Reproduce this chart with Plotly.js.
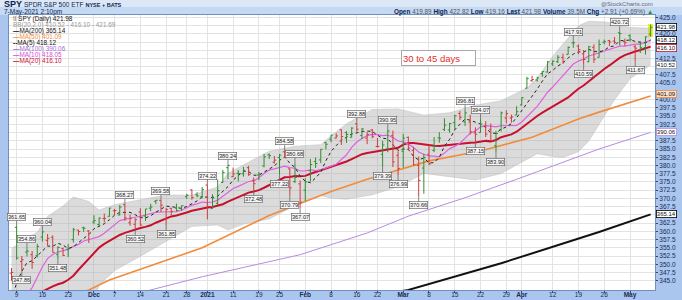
<!DOCTYPE html>
<html><head><meta charset="utf-8">
<script src="https://cdn.plot.ly/plotly-3.0.1.min.js"></script>
<style>html,body{margin:0;padding:0;background:#aac6ee;}#chart{width:682px;height:300px;}</style>
</head><body><div id="chart"></div>
<script>
// ---- trading days ----
const dates = ['2020-11-06','2020-11-09','2020-11-10','2020-11-11','2020-11-12','2020-11-13','2020-11-16','2020-11-17','2020-11-18','2020-11-19','2020-11-20','2020-11-23','2020-11-24','2020-11-25','2020-11-27','2020-11-30',
'2020-12-01','2020-12-02','2020-12-03','2020-12-04','2020-12-07','2020-12-08','2020-12-09','2020-12-10','2020-12-11','2020-12-14','2020-12-15','2020-12-16','2020-12-17','2020-12-18','2020-12-21','2020-12-22','2020-12-23','2020-12-24','2020-12-28','2020-12-29','2020-12-30','2020-12-31',
'2021-01-04','2021-01-05','2021-01-06','2021-01-07','2021-01-08','2021-01-11','2021-01-12','2021-01-13','2021-01-14','2021-01-15','2021-01-19','2021-01-20','2021-01-21','2021-01-22','2021-01-25','2021-01-26','2021-01-27','2021-01-28','2021-01-29',
'2021-02-01','2021-02-02','2021-02-03','2021-02-04','2021-02-05','2021-02-08','2021-02-09','2021-02-10','2021-02-11','2021-02-12','2021-02-16','2021-02-17','2021-02-18','2021-02-19','2021-02-22','2021-02-23','2021-02-24','2021-02-25','2021-02-26',
'2021-03-01','2021-03-02','2021-03-03','2021-03-04','2021-03-05','2021-03-08','2021-03-09','2021-03-10','2021-03-11','2021-03-12','2021-03-15','2021-03-16','2021-03-17','2021-03-18','2021-03-19','2021-03-22','2021-03-23','2021-03-24','2021-03-25','2021-03-26','2021-03-29','2021-03-30','2021-03-31',
'2021-04-01','2021-04-05','2021-04-06','2021-04-07','2021-04-08','2021-04-09','2021-04-12','2021-04-13','2021-04-14','2021-04-15','2021-04-16','2021-04-19','2021-04-20','2021-04-21','2021-04-22','2021-04-23','2021-04-26','2021-04-27','2021-04-28','2021-04-29','2021-04-30',
'2021-05-03','2021-05-04','2021-05-05','2021-05-06','2021-05-07'];

// ---- OHLC (adjusted) ----
const openP = [347.29,361.22,350.82,353.71,352.90,352.59,358.25,357.25,358.19,352.92,
354.80,354.58,357.49,360.39,361.09,360.09,362.81,362.07,363.91,364.55,
366.23,364.94,368.08,362.61,362.14,365.86,364.63,367.03,369.13,369.40,
363.77,367.00,367.07,366.87,370.52,372.58,371.12,370.56,374.08,366.89,
368.50,374.87,379.34,376.61,377.65,377.45,379.34,375.48,377.10,379.86,
383.23,381.00,382.41,384.15,378.97,375.13,374.40,372.49,378.40,381.19,
381.70,386.93,387.99,388.33,390.83,389.96,388.57,392.67,389.14,388.31,
390.78,385.79,383.40,385.06,389.13,383.09,384.33,388.54,384.52,379.97,
379.21,383.40,384.58,388.41,390.94,390.78,393.04,395.77,393.24,393.19,
389.88,390.03,391.91,391.00,385.98,390.93,394.40,394.42,395.34,398.40,
403.46,405.76,405.94,407.93,408.39,410.85,411.53,412.83,413.74,417.25,
416.26,413.91,411.51,415.89,412.87,417.44,417.93,417.81,420.32,417.63,
419.43,416.07,417.38,415.83,419.89];
const highP = [348.86,361.65,352.50,354.86,354.03,356.19,360.04,359.19,358.77,355.48,
355.02,356.11,361.06,360.42,361.43,360.38,364.90,364.19,365.41,367.06,
366.83,367.98,368.27,365.08,363.97,367.01,366.80,368.36,369.50,369.58,
367.10,367.12,368.41,367.82,371.37,372.77,371.88,373.43,374.22,371.28,
375.74,378.65,380.24,379.33,378.61,379.61,379.88,376.34,377.99,383.53,
383.69,382.87,383.51,384.58,379.07,380.68,375.43,376.10,381.96,382.44,
384.97,387.20,389.28,389.78,390.99,390.41,391.61,392.88,391.37,390.24,
391.09,388.34,387.48,390.95,390.59,384.32,389.64,388.79,385.56,382.74,
383.50,386.41,388.63,390.12,394.35,392.92,395.39,396.53,396.81,395.42,
391.57,394.07,393.46,392.75,390.55,396.41,396.75,395.45,398.00,400.67,
406.94,407.24,406.96,408.58,411.67,411.93,413.53,413.96,416.16,417.91,
416.74,415.09,416.29,416.78,418.25,418.22,418.14,419.01,420.72,418.54,
419.84,416.60,417.63,419.21,422.82];
const lowP = [345.03,351.39,347.86,352.38,348.61,352.03,356.88,355.63,353.55,351.48,
352.50,352.19,356.58,358.75,359.84,356.46,362.17,361.45,362.74,364.45,
364.94,364.89,363.19,361.68,360.52,361.72,363.16,366.09,368.25,365.82,
361.85,364.83,366.02,366.24,369.85,369.61,370.35,370.01,363.62,366.84,
367.91,374.68,375.86,376.48,375.13,376.61,376.86,372.48,375.51,379.44,
381.99,380.59,377.22,382.28,370.79,374.66,367.07,369.17,375.09,379.23,
380.72,384.87,387.08,388.22,386.23,386.83,388.49,390.25,388.05,386.47,
388.27,385.47,379.39,384.01,379.53,376.99,379.32,384.73,380.06,370.66,
371.42,380.17,384.05,386.90,390.46,389.92,390.74,393.78,392.01,389.47,
387.15,389.97,388.66,387.47,383.90,390.29,392.81,393.02,395.31,398.18,
403.38,405.40,405.45,406.93,408.26,410.20,411.12,410.87,413.69,415.73,
413.79,410.59,411.36,411.13,412.79,416.81,416.30,416.90,416.44,416.34,
417.67,411.67,414.15,413.68,419.16];
const closeP = [347.52,351.88,351.37,353.98,350.54,355.40,359.83,357.90,353.59,355.08,
352.65,354.76,360.48,359.92,360.92,359.33,363.26,364.02,363.92,367.06,
366.30,367.38,364.08,363.96,363.53,361.91,366.80,367.38,369.43,367.97,
366.65,366.04,366.36,367.79,370.95,370.24,370.77,372.65,367.58,370.11,
372.32,377.86,380.01,377.45,377.53,378.54,377.22,374.47,377.41,382.63,
382.98,381.62,383.13,382.53,373.18,376.39,368.86,375.00,380.30,380.60,
384.92,386.44,389.23,388.97,388.80,389.43,391.35,391.01,391.10,389.44,
388.75,385.76,386.23,390.48,381.08,379.11,388.30,385.27,380.17,375.46,
382.37,380.47,385.90,388.30,392.24,392.77,395.11,394.61,395.96,390.20,
389.48,392.59,389.50,387.52,389.70,395.98,395.78,394.73,396.33,400.61,
406.36,406.12,406.59,408.52,411.49,411.64,412.86,411.45,415.87,417.26,
415.21,412.17,416.07,412.27,416.74,417.61,417.52,417.40,420.06,417.30,
418.20,415.62,415.75,419.07,421.98];
const prevClose = 347.60; // close before the first bar

// ---- moving averages (every day) ----
const ma5 = [339.45,344.29,347.86,350.47,351.06,352.63,354.22,355.53,355.45,356.36,
355.81,354.80,355.31,356.58,357.75,359.08,360.78,361.49,362.29,363.52,
364.91,365.74,365.75,365.76,365.05,364.17,364.06,364.72,365.81,366.70,
367.65,367.49,367.29,366.96,367.56,368.28,369.22,370.48,370.44,370.27,
370.69,372.10,373.58,375.55,377.03,378.28,378.15,377.04,377.03,378.05,
378.94,379.82,381.55,382.58,380.69,379.37,376.82,375.19,374.75,376.23,
377.94,381.45,384.30,386.03,387.67,388.57,389.56,389.91,390.34,390.47,
390.33,389.21,388.26,388.13,386.46,384.53,385.04,384.85,382.79,381.66,
382.31,380.75,380.87,382.50,385.86,387.94,390.86,392.61,394.14,393.73,
393.07,392.57,391.55,389.86,389.76,391.06,391.70,392.74,394.50,396.69,
398.76,400.83,403.20,405.64,407.82,408.87,410.22,411.19,412.66,413.82,
414.53,414.39,415.32,414.60,414.49,414.97,416.04,416.31,417.87,417.98,
418.10,417.72,417.39,417.19,418.12];
const ma10 = [334.55,336.06,337.63,340.61,342.91,346.04,349.26,351.70,352.96,353.71,
354.22,354.51,355.42,356.02,357.05,357.45,357.79,358.40,359.43,360.63,
362.00,363.26,363.62,364.02,364.28,364.54,364.90,365.23,365.78,365.87,
365.91,365.78,366.00,366.39,367.13,367.96,368.36,368.89,368.70,368.91,
369.48,370.66,372.03,372.99,373.65,374.48,375.13,375.31,376.29,377.54,
378.61,378.99,379.30,379.81,379.37,379.16,378.32,378.37,378.66,378.46,
378.65,379.14,379.75,380.39,381.95,383.26,385.50,387.11,388.19,389.07,
389.45,389.38,389.08,389.24,388.46,387.43,387.13,386.55,385.46,384.06,
383.42,382.89,382.86,382.64,383.76,385.13,385.81,386.74,388.32,389.79,
390.50,391.72,392.08,392.00,391.74,392.07,392.13,392.14,392.18,393.22,
394.91,396.26,397.97,400.07,402.25,403.82,405.53,407.20,409.15,410.82,
411.70,412.31,413.25,413.63,414.15,414.75,415.22,415.81,416.23,416.24,
416.53,416.88,416.85,417.53,418.05];
const ma20 = [339.16,339.27,339.46,339.90,340.18,340.71,341.74,342.59,343.26,343.92,
344.39,345.29,346.53,348.32,349.98,351.75,353.53,355.05,356.20,357.17,
358.11,358.89,359.52,360.02,360.67,361.00,361.35,361.82,362.61,363.25,
363.96,364.52,364.81,365.21,365.71,366.25,366.63,367.06,367.24,367.39,
367.70,368.22,369.02,369.69,370.39,371.22,371.75,372.10,372.50,373.23,
374.05,374.83,375.67,376.40,376.51,376.82,376.73,376.84,377.48,378.00,
378.63,379.07,379.53,380.10,380.66,381.21,381.91,382.74,383.43,383.77,
384.05,384.26,384.42,384.82,385.21,385.35,386.32,386.83,386.83,386.57,
386.44,386.14,385.97,385.94,386.11,386.28,386.47,386.65,386.89,386.93,
386.96,387.31,387.47,387.32,387.75,388.60,388.97,389.44,390.25,391.51,
392.71,393.99,395.03,396.04,397.00,397.95,398.83,399.67,400.67,402.02,
403.31,404.29,405.61,406.85,408.20,409.29,410.38,411.51,412.69,413.53,
414.12,414.60,415.05,415.58,416.10];

// ---- Bollinger bands (sampled) ----
const bbDates = ['2020-11-06','2020-11-13','2020-11-17','2020-11-20','2020-11-24','2020-11-30','2020-12-02','2020-12-07','2020-12-14','2020-12-21','2020-12-29','2021-01-06','2021-01-08','2021-01-13','2021-01-21','2021-01-28','2021-02-04','2021-02-08','2021-02-11','2021-02-19','2021-02-26','2021-03-05','2021-03-12','2021-03-19','2021-03-26','2021-04-05','2021-04-07','2021-04-12','2021-04-14','2021-04-19','2021-04-21','2021-04-26','2021-04-28','2021-05-03','2021-05-07'];
const bbUpper = [354.80,359.77,364.53,367.70,370.43,369.05,366.45,368.10,369.58,371.00,370.99,373.46,377.66,380.20,384.33,385.84,386.31,389.00,392.67,396.99,397.17,395.28,396.02,398.32,399.62,403.53,406.47,413.15,416.89,422.41,423.79,423.59,423.03,421.90,421.69];
const bbLower = [323.50,321.65,320.65,321.10,322.63,334.45,343.65,348.10,352.42,356.90,361.51,361.94,360.38,362.20,363.77,367.80,370.95,370.05,369.75,371.11,373.53,377.60,376.54,375.60,377.58,381.89,383.59,382.75,382.45,384.21,387.43,394.99,399.99,406.34,410.52];

// ---- long moving averages (sampled) ----
const ma50Dates = ['2020-11-24','2020-11-30','2020-12-04','2020-12-31','2021-01-21','2021-02-08','2021-02-18','2021-03-08','2021-03-22','2021-04-06','2021-04-19','2021-04-23','2021-05-07'];
const ma50 = [340.8,342.2,345.2,355.0,364.8,372.1,375.8,381.4,384.4,388.6,394.1,396.2,401.09];
const ma100Dates = ['2020-12-11','2020-12-16','2020-12-31','2021-01-29','2021-02-18','2021-03-02','2021-03-17','2021-03-31','2021-04-23','2021-05-07'];
const ma100 = [341.0,342.2,346.2,352.9,359.5,364.6,370.2,375.8,385.0,390.06];
const ma200Dates = ['2021-02-25','2021-03-02','2021-03-26','2021-04-23','2021-05-07'];
const ma200 = [341.4,342.2,350.3,359.8,365.14];

// ---- price labels ----
const labelDates = ['2020-11-09','2020-11-10','2020-11-11','2020-11-16','2020-11-19','2020-12-09','2020-12-11','2020-12-18','2020-12-21','2021-01-04','2021-01-08','2021-01-15','2021-01-25','2021-01-26','2021-01-27','2021-01-28','2021-01-29','2021-02-16','2021-02-23','2021-02-24','2021-02-26','2021-03-04','2021-03-17','2021-03-19','2021-03-22','2021-03-25','2021-04-16','2021-04-20','2021-04-29','2021-05-04'];
const labelValues = [361.65,347.86,354.86,360.04,351.48,368.27,360.52,369.58,361.85,374.22,380.24,372.48,377.22,384.58,370.79,380.68,367.07,392.88,379.39,390.95,376.99,370.66,396.81,387.15,394.07,383.90,417.91,410.59,420.72,411.67];
const labelIsHigh = [1,0,1,1,0,1,0,1,0,1,1,0,0,1,0,1,0,1,0,1,0,0,1,0,1,0,1,0,1,0];

// ---- axis ticks ----
const tickDates = ['2020-11-09','2020-11-16','2020-11-23','2020-12-01','2020-12-07','2020-12-14','2020-12-21','2020-12-28','2021-01-04','2021-01-11','2021-01-19','2021-01-25','2021-02-01','2021-02-08','2021-02-16','2021-02-22','2021-03-01','2021-03-08','2021-03-15','2021-03-22','2021-03-29','2021-04-01','2021-04-12','2021-04-19','2021-04-26','2021-05-03'];
const tickText = ['9','16','23','<b>Dec</b>','7','14','21','28','<b>2021</b>','11','19','25','<b>Feb</b>','8','16','22','<b>Mar</b>','8','15','22','29','<b>Apr</b>','12','19','26','<b>May</b>'];
const priceGrid = [345,347.5,350,352.5,355,357.5,360,362.5,365,367.5,370,372.5,375,377.5,380,382.5,385,387.5,390,392.5,395,397.5,400,402.5,405,407.5,410,412.5,415,417.5,420,422.5,425];
const hiddenTicks = [422.5,417.5,415,410,402.5,390,365];

// right-axis value tags
const tagValues = [421.98,418.12,416.10,410.52,401.09,390.06,365.14];
const tagColors = ['#000000','#000000','#c8102e','#9a9a9a','#f08c3c','#b98ae0','#000000'];
const tagFills  = ['#ffffff','#ffffff','#ffffff','#ffffff','#fde3cc','#ffffff','#ffffff'];
const tagNudge  = [0,0,-1,0,2,0,0];

const GREEN = '#2f8f2f', RED = '#d23a3a';

const up = {x:[],o:[],h:[],l:[],c:[]}, dn = {x:[],o:[],h:[],l:[],c:[]};
dates.forEach((d,i) => {
  const pc = i ? closeP[i-1] : prevClose;
  const t = closeP[i] >= pc ? up : dn;
  t.x.push(d); t.o.push(openP[i]); t.h.push(highP[i]); t.l.push(lowP[i]); t.c.push(closeP[i]);
});
const ohlc = (s, col) => ({type:'ohlc', x:s.x, open:s.o, high:s.h, low:s.l, close:s.c, yaxis:'y2',
  increasing:{line:{color:col,width:1}}, decreasing:{line:{color:col,width:1}},
  tickwidth:0.35, hoverinfo:'skip', showlegend:false});
const last = dates.length - 1;

const traces = [
  {type:'scatter', mode:'lines', x:bbDates, y:bbLower, line:{color:'#c4c4c4',width:0.6}, hoverinfo:'skip'},
  {type:'scatter', mode:'lines', x:bbDates, y:bbUpper, fill:'tonexty', fillcolor:'rgba(170,170,170,0.42)', line:{color:'#c4c4c4',width:0.6}, hoverinfo:'skip'},
  {type:'scatter', mode:'lines', x:ma200Dates, y:ma200, line:{color:'#111111',width:2}, hoverinfo:'skip'},
  {type:'scatter', mode:'lines', x:ma100Dates, y:ma100, line:{color:'#b98ae0',width:1}, hoverinfo:'skip'},
  {type:'scatter', mode:'lines', x:ma50Dates, y:ma50, line:{color:'#f08c3c',width:1.6}, hoverinfo:'skip'},
  {type:'scatter', mode:'lines', x:dates, y:ma20, line:{color:'#c8102e',width:2}, hoverinfo:'skip'},
  {type:'scatter', mode:'lines', x:dates, y:ma10, line:{color:'#e060e0',width:1.2}, hoverinfo:'skip'},
  {type:'scatter', mode:'lines', x:dates, y:ma5, line:{color:'#222222',width:1,dash:'dot'}, hoverinfo:'skip'},
  {type:'bar', x:[dates[last]], base:[lowP[last]], y:[highP[last]-lowP[last]], width:0.9, marker:{color:'#f0f020'}, hoverinfo:'skip'},
  ohlc(up, GREEN), ohlc(dn, RED)
];

const ann = [];
labelDates.forEach((d,i) => ann.push({x:d, y:labelValues[i], xref:'x', yref:'y',
  text:labelValues[i].toFixed(2), showarrow:true, arrowhead:0, arrowwidth:0.8, arrowcolor:'#666',
  ax:0, ay: labelIsHigh[i] ? -9 : 9, font:{size:5.6,color:'#222'},
  bgcolor:'#f6f6f6', bordercolor:'#555', borderwidth:0.6, borderpad:0.4}));
tagValues.forEach((v,i) => ann.push({x:1, y:v, xref:'paper', yref:'y', xanchor:'left', yanchor:'middle', xshift:1, yshift:tagNudge[i],
  text:v.toFixed(2), showarrow:false, font:{size:6,color:'#111'}, bgcolor:tagFills[i], bordercolor:tagColors[i], borderwidth:0.8, borderpad:0}));

const PW = 646, PH = 275;
const py = px => 1 - (px - 15) / PH;
const legendRows = [
  ['<span style="color:#2f8f2f">ǀ</span><span style="color:#d23a3a">ǀ</span> SPY (Daily) 421.98', '#111'],
  ['BB(20,2.0) 410.52 - 416.10 - 421.69', '#9a9a9a'],
  ['<b>—</b>MA(200) 365.14', '#111'],
  ['<b>—</b>MA(50) 401.09', '#f08c3c'],
  ['<b>--</b>MA(5) 418.12', '#111'],
  ['<b>—</b>MA(100) 390.06', '#a56ad6'],
  ['<b>—</b>MA(10) 418.05', '#d84ad8'],
  ['<b>—</b>MA(20) 416.10', '#c8102e']
];
legendRows.forEach((r,i) => ann.push({x:1.5/PW, y:py(19.3 + i*5.97), xref:'paper', yref:'paper', xanchor:'left', yanchor:'middle',
  text:r[0], showarrow:false, font:{size:6.4,color:r[1]}}));

ann.push({x:(438.4-9)/PW, y:py(57.5), xref:'paper', yref:'paper', xanchor:'center', yanchor:'middle',
  text:'30 to 45 days', showarrow:false, width:71, height:12, align:'left',
  font:{size:9.5,color:'#e0302a'}, bgcolor:'#ffffff', bordercolor:'#a8a8a8', borderwidth:1, borderpad:1});

ann.push({x:-7/PW, y:1 + (15-4.3)/PH, xref:'paper', yref:'paper', xanchor:'left', yanchor:'middle', showarrow:false,
  text:'<b><span style="font-size:9px">SPY</span></b> <span style="font-size:6.5px">SPDR S&amp;P 500 ETF</span> <b><span style="font-size:5.5px">NYSE + BATS</span></b>',
  font:{size:7,color:'#0d1f4d'}});
ann.push({x:-7/PW, y:1 + (15-11.5)/PH, xref:'paper', yref:'paper', xanchor:'left', yanchor:'middle', showarrow:false,
  text:'7-May-2021 2:10pm', font:{size:6.5,color:'#0d1f4d'}});
ann.push({x:1, y:1 + (15-4.3)/PH, xref:'paper', yref:'paper', xanchor:'right', yanchor:'middle', showarrow:false,
  text:'@StockCharts.com', font:{size:6,color:'#667'}});
ann.push({x:1, y:1 + (15-11.5)/PH, xref:'paper', yref:'paper', xanchor:'right', yanchor:'middle', showarrow:false,
  text:'<b>Open</b> <span style="color:#555">419.89</span> <b>High</b> <span style="color:#555">422.82</span> <b>Low</b> <span style="color:#555">419.16</span> <b>Last</b> <span style="color:#555">421.98</span> <b>Volume</b> <span style="color:#555">39.5M</span> <b>Chg</b> <span style="color:#555">+2.91 (+0.69%)</span> <span style="color:#2f8f2f">▲</span>',
  font:{size:6.4,color:'#0d1f4d'}});

const shapes = [
  {type:'rect', xref:'paper', yref:'paper', x0:-9/PW, x1:1+27/PW, y0:1+7.5/PH, y1:1+15/PH, fillcolor:'#dde8f6', line:{width:0}, layer:'below'},
  {type:'rect', xref:'paper', yref:'paper', x0:-9/PW, x1:1+27/PW, y0:1, y1:1+7.5/PH, fillcolor:'#c4d9f4', line:{width:0}, layer:'below'}
];

const Y_RANGE = [342.18, 425.7];
const labelTicks = priceGrid.filter(v => !hiddenTicks.includes(v));
const layout = {
  width:682, height:300, margin:{l:9, r:27, t:15, b:10, pad:0},
  paper_bgcolor:'#aac6ee', plot_bgcolor:'#ffffff',
  font:{family:'Liberation Sans, Arial, sans-serif', size:7, color:'#1b2b55'},
  showlegend:false, bargap:0,
  xaxis:{type:'category', categoryorder:'array', categoryarray:dates, range:[-0.485, 124.85],
    tickmode:'array', tickvals:tickDates, ticktext:tickText, tickangle:0,
    showgrid:true, gridcolor:'#e3e3e3', gridwidth:1, ticks:'outside', ticklen:2, tickcolor:'#445',
    ticklabelstandoff:-4,
    tickfont:{size:6.5, color:'#1b2b55'}, rangeslider:{visible:false},
    showline:true, linecolor:'#6f8fc0', linewidth:1, mirror:true, zeroline:false, automargin:false, fixedrange:true},
  yaxis:{side:'right', range:Y_RANGE, tickmode:'array', tickvals:priceGrid, showticklabels:false,
    showgrid:true, gridcolor:'#e3e3e3', gridwidth:1, ticks:'',
    showline:true, linecolor:'#6f8fc0', linewidth:1, mirror:true, zeroline:false, automargin:false, fixedrange:true},
  yaxis2:{overlaying:'y', side:'right', range:Y_RANGE, tickmode:'array', tickvals:labelTicks, tickformat:'.1f',
    showgrid:false, ticks:'outside', ticklen:2, tickcolor:'#445', tickfont:{size:6.5, color:'#1b2b55'},
    showline:false, zeroline:false, automargin:false, fixedrange:true},
  annotations:ann, shapes:shapes
};

Plotly.newPlot('chart', traces, layout, {staticPlot:true, displayModeBar:false});
</script>
</body></html>
